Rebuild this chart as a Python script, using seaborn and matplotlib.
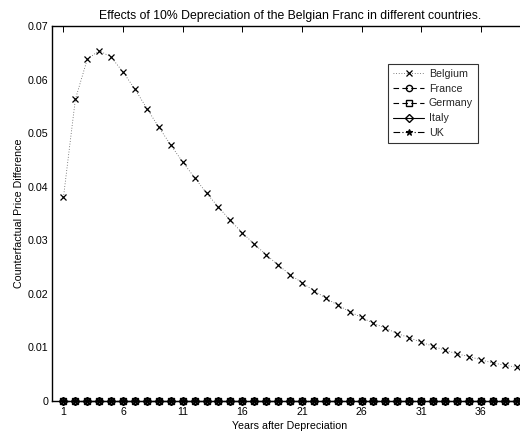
import numpy as np
import pandas as pd
import matplotlib
matplotlib.use("Agg")
import matplotlib.pyplot as plt
import seaborn as sns

# Years after the depreciation shock
years = list(range(1, 41))

# Counterfactual price difference for each country
belgium = [0.0380, 0.0563, 0.0638, 0.0654, 0.0642, 0.0614, 0.0582, 0.0546,
           0.0511, 0.0478, 0.0446, 0.0417, 0.0388, 0.0362, 0.0337, 0.0314,
           0.0293, 0.0273, 0.0254, 0.0236, 0.0221, 0.0206, 0.0192, 0.0179,
           0.0167, 0.0156, 0.0145, 0.0136, 0.0126, 0.0118, 0.0110, 0.0102,
           0.0095, 0.0088, 0.0083, 0.0077, 0.0071, 0.0067, 0.0063, 0.0059]
france = [0.0] * 40
germany = [0.0] * 40
italy = [0.0] * 40
uk = [0.0] * 40

countries = ["Belgium", "France", "Germany", "Italy", "UK"]
series = [belgium, france, germany, italy, uk]

xticks = [1, 6, 11, 16, 21, 26, 31, 36]
yticks = [0, 0.01, 0.02, 0.03, 0.04, 0.05, 0.06, 0.07]

title = "Effects of 10% Depreciation of the Belgian Franc in different countries."
xlabel = "Years after Depreciation"
ylabel = "Counterfactual Price Difference"

sns.set_theme(style="white")
plt.rcParams["font.family"] = ["Liberation Sans", "DejaVu Sans"]
fs = 7.7

styles = {
    "Belgium": dict(linestyle=(0, (1, 2.2)), marker="x", markersize=3.8, linewidth=0.6, color="0.35", mec="black", mew=0.9),
    "France": dict(linestyle=(0, (5, 3)), marker="o", markersize=4.5, linewidth=0.8, color="black", mfc="none", mec="black", mew=1.0),
    "Germany": dict(linestyle=(0, (5, 3)), marker="s", markersize=4.0, linewidth=0.8, color="black", mfc="none", mec="black", mew=1.0),
    "Italy": dict(linestyle="-", marker="D", markersize=4.0, linewidth=0.8, color="black", mfc="none", mec="black", mew=1.0),
    "UK": dict(linestyle=(0, (6, 2, 1, 2)), marker="*", markersize=5.0, linewidth=0.8, color="black", mec="black", mew=0.8),
}

frames = [pd.DataFrame({"Year": years, "Value": vals, "Country": name})
          for name, vals in zip(countries, series)]
data = pd.concat(frames, ignore_index=True)

fig = plt.figure(figsize=(5.2, 4.34), dpi=100)
ax = fig.add_axes([51.5 / 520, 33 / 434, 477 / 520, 375 / 434])

for name in countries:
    sub = data[data["Country"] == name]
    st = dict(styles[name])
    color = st.pop("color")
    sns.lineplot(data=sub, x="Year", y="Value", ax=ax, color=color,
                 label=name, estimator=None, clip_on=False, **st)

ax.set_xlim(0, 40)
ax.set_ylim(0, 0.07)
ax.set_xticks(xticks)
ax.set_yticks(yticks)
ax.set_xticklabels([str(t) for t in xticks], fontsize=fs)
ax.set_yticklabels(["0"] + [f"{t:.2f}" for t in yticks[1:]], fontsize=fs)
ax.tick_params(direction="in", length=4, width=0.7, top=True, right=True,
               color="black", labelcolor="black")
ax.tick_params(axis="x", pad=4.5)
ax.tick_params(axis="y", pad=2)
for sp in ax.spines.values():
    sp.set_color("black")
    sp.set_linewidth(1.0)

ax.set_title(title, fontsize=8.8, pad=5, color="black")
ax.set_xlabel(xlabel, fontsize=fs, labelpad=2.5, color="black")
ax.set_ylabel(ylabel, fontsize=fs, labelpad=3, color="black")

leg = ax.legend(loc="upper left", bbox_to_anchor=(388 / 520, 1 - 64 / 434),
                bbox_transform=fig.transFigure, fontsize=fs, frameon=True,
                fancybox=False, edgecolor="black", handlelength=2.95,
                handletextpad=0.4, labelspacing=0.45, borderpad=0.45,
                borderaxespad=0)
leg.get_frame().set_linewidth(0.8)

fig.savefig("out.png", dpi=100)
